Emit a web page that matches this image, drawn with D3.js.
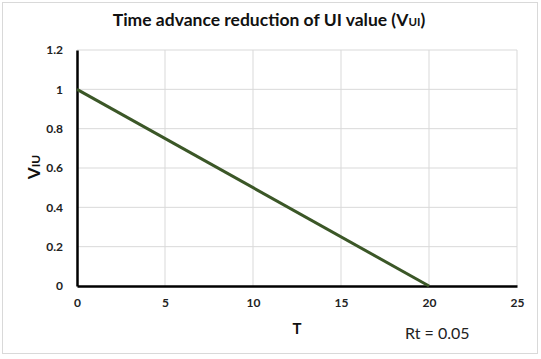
<!DOCTYPE html>
<html><head><meta charset="utf-8">
<script src="https://cdn.jsdelivr.net/npm/d3@7/dist/d3.min.js"></script>
<style>body{margin:0;background:#fff}svg{display:block}</style>
</head><body>
<svg id="c" width="541" height="359"></svg>
<script>
const tValues = [0, 20];
const vValues = [1, 0];
const xTicks = [0, 5, 10, 15, 20, 25];
const yTicks = [0, 0.2, 0.4, 0.6, 0.8, 1, 1.2];
const titleText = "Time advance reduction of UI value (V";
const titleSub = "UI";
const xLabel = "T";
const yLabelMain = "V";
const yLabelSub = "IU";
const note = "Rt = 0.05";

const svg = d3.select("#c");
const font = "Lato, 'Open Sans', sans-serif";
svg.append("rect").attr("x",2.5).attr("y",2.5).attr("width",535).attr("height",351)
  .attr("fill","#fff").attr("stroke","#d9d9d9");

const x = d3.scaleLinear().domain([0,25]).range([77,517]);
const y = d3.scaleLinear().domain([0,1.2]).range([286,50]);

// gridlines
svg.append("g").selectAll("line.h").data(yTicks.filter(d=>d>0)).join("line")
  .attr("x1",x(0)).attr("x2",x(25)).attr("y1",d=>y(d)).attr("y2",d=>y(d))
  .attr("stroke","#d9d9d9").attr("stroke-width",1);
svg.append("g").selectAll("line.v").data(xTicks.filter(d=>d>0)).join("line")
  .attr("x1",d=>x(d)).attr("x2",d=>x(d)).attr("y1",y(0)).attr("y2",y(1.2))
  .attr("stroke","#d9d9d9").attr("stroke-width",1);

// axes
const xa = svg.append("g").attr("transform",`translate(0,${y(0)})`)
  .call(d3.axisBottom(x).tickValues(xTicks).tickSize(0).tickPadding(12).tickFormat(d3.format("d")));
const ya = svg.append("g").attr("transform",`translate(${x(0)},0)`)
  .call(d3.axisLeft(y).tickValues(yTicks).tickSize(0).tickPadding(14).tickFormat(d=>String(+d.toFixed(1))));
[xa,ya].forEach(a=>{
  a.select(".domain").attr("stroke","#000").attr("stroke-width",2.5);
  a.selectAll("text").attr("font-family",font).attr("font-weight","bold").attr("font-size",12).attr("fill","#222");
});

// line
const line = d3.line().x((d,i)=>x(tValues[i])).y(d=>y(d));
svg.append("path").datum(vValues).attr("d",line).attr("fill","none")
  .attr("stroke","#3b5727").attr("stroke-width",3);

// title
const t = svg.append("text").attr("x",269).attr("y",26).attr("text-anchor","middle")
  .attr("font-family",font).attr("font-weight","bold").attr("font-size",17.5).attr("fill","#111");
t.append("tspan").text(titleText);
t.append("tspan").attr("font-size",11.5).text(titleSub);
t.append("tspan").text(")");

// x label
svg.append("text").attr("x",297).attr("y",334).attr("text-anchor","middle")
  .attr("font-family",font).attr("font-weight","bold").attr("font-size",15).attr("fill","#111").text(xLabel);
// y label
const yl = svg.append("text").attr("transform","translate(40,167) rotate(-90)").attr("text-anchor","middle")
  .attr("font-family",font).attr("font-weight","bold").attr("font-size",17).attr("fill","#111");
yl.append("tspan").text(yLabelMain);
yl.append("tspan").attr("font-size",12).text(yLabelSub);

// note
svg.append("text").attr("x",405).attr("y",339).attr("font-family",font)
  .attr("font-size",16).attr("fill","#222").text(note);
</script>
</body></html>
